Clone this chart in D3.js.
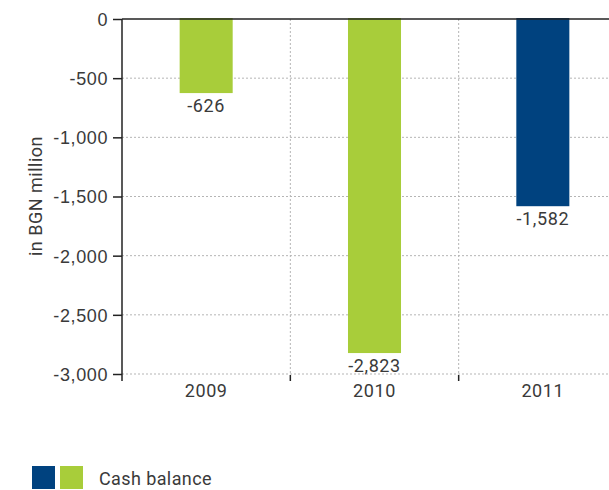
<!DOCTYPE html>
<html>
<head>
<meta charset="utf-8">
<script src="https://cdn.jsdelivr.net/npm/d3@7/dist/d3.min.js"></script>
<style>
  html, body { margin: 0; padding: 0; background: #fff; }
  svg { display: block; font-family: Roboto, "Liberation Sans", Arial, sans-serif; }
  text { fill: #3a3a3a; }
</style>
</head>
<body>
<svg id="chart" width="609" height="490"></svg>
<script>
// Cash balance, in BGN million
const years = ["2009", "2010", "2011"];
const cashBalance = [-626, -2823, -1582];
const barColors = ["#a8cd3a", "#a8cd3a", "#00427f"];
const yTicks = [0, -500, -1000, -1500, -2000, -2500, -3000];
const legendColors = ["#00427f", "#a8cd3a"];
const legendLabel = "Cash balance";
const yTitle = "in BGN million";

const svg = d3.select("#chart");
const plot = { left: 122, right: 609, top: 19, bottom: 374 };

const locale = d3.formatLocale({ decimal: ".", thousands: ",", grouping: [3], currency: ["", ""], minus: "-" });
const fmt = locale.format(",");

const x = d3.scaleBand().domain(years).range([plot.left, 627]).padding(0);
const y = d3.scaleLinear().domain([-3000, 0]).range([plot.bottom, plot.top]);
const barW = x.bandwidth() * 0.315;

// horizontal dotted grid
svg.append("g").selectAll("line").data(yTicks.filter(d => d !== 0)).join("line")
  .attr("x1", plot.left).attr("x2", plot.right)
  .attr("y1", d => y(d)).attr("y2", d => y(d))
  .attr("stroke", "#b5b5b5").attr("stroke-width", 1).attr("stroke-dasharray", "2,2");

// vertical dotted grid at category boundaries
const bounds = years.slice(1).map(d => x(d));
svg.append("g").selectAll("line").data(bounds).join("line")
  .attr("x1", d => d).attr("x2", d => d)
  .attr("y1", plot.top).attr("y2", plot.bottom)
  .attr("stroke", "#b5b5b5").attr("stroke-width", 1).attr("stroke-dasharray", "2,2");

// bars
svg.append("g").selectAll("rect").data(years).join("rect")
  .attr("x", d => x(d) + x.bandwidth() / 2 - barW / 2)
  .attr("y", y(0) - 1)
  .attr("width", barW)
  .attr("height", (d, i) => y(cashBalance[i]) - y(0) + 1)
  .attr("fill", (d, i) => barColors[i]);

// value labels
svg.append("g").selectAll("text").data(years).join("text")
  .attr("x", d => x(d) + x.bandwidth() / 2)
  .attr("y", (d, i) => y(cashBalance[i]) + 19)
  .attr("text-anchor", "middle")
  .attr("font-size", 18).attr("letter-spacing", 0.6)
  .text((d, i) => fmt(cashBalance[i]));

// zero line
svg.append("line")
  .attr("x1", plot.left).attr("x2", plot.right)
  .attr("y1", y(0)).attr("y2", y(0))
  .attr("stroke", "#222").attr("stroke-width", 1.5);

// y axis
const yAxis = svg.append("g")
  .attr("transform", `translate(${plot.left},0)`)
  .call(d3.axisLeft(y).tickValues(yTicks).tickSize(9).tickPadding(5).tickFormat(fmt));
yAxis.select(".domain").remove();
yAxis.selectAll(".tick line").attr("stroke", "#222").attr("stroke-width", 1.5);
yAxis.selectAll(".tick text").attr("font-size", 18).attr("letter-spacing", 0.6)
  .attr("fill", "#3a3a3a").attr("dy", "0.36em");
svg.append("line")
  .attr("x1", plot.left).attr("x2", plot.left)
  .attr("y1", plot.top).attr("y2", plot.bottom + 7)
  .attr("stroke", "#222").attr("stroke-width", 1.5);

// x axis (ticks at category boundaries, labels centred)
const xAxis = svg.append("g").attr("transform", `translate(0,${plot.bottom})`);
xAxis.selectAll("line").data(bounds).join("line")
  .attr("x1", d => d).attr("x2", d => d)
  .attr("y1", 1).attr("y2", 7)
  .attr("stroke", "#222").attr("stroke-width", 1.5);
xAxis.selectAll("text").data(years).join("text")
  .attr("x", d => x(d) + x.bandwidth() / 2)
  .attr("y", 23)
  .attr("text-anchor", "middle")
  .attr("font-size", 18).attr("letter-spacing", 0.6)
  .text(d => d);

// y axis title
svg.append("text")
  .attr("transform", "translate(42,196) rotate(-90)")
  .attr("text-anchor", "middle")
  .attr("font-size", 18).attr("letter-spacing", 0.5)
  .text(yTitle);

// legend
const lg = svg.append("g").attr("transform", "translate(32,466)");
lg.selectAll("rect").data(legendColors).join("rect")
  .attr("x", (d, i) => i * 28).attr("y", 0)
  .attr("width", 23).attr("height", 23)
  .attr("fill", d => d);
lg.append("text")
  .attr("x", 67).attr("y", 19)
  .attr("font-size", 18).attr("letter-spacing", 0.4)
  .text(legendLabel);
</script>
</body>
</html>
